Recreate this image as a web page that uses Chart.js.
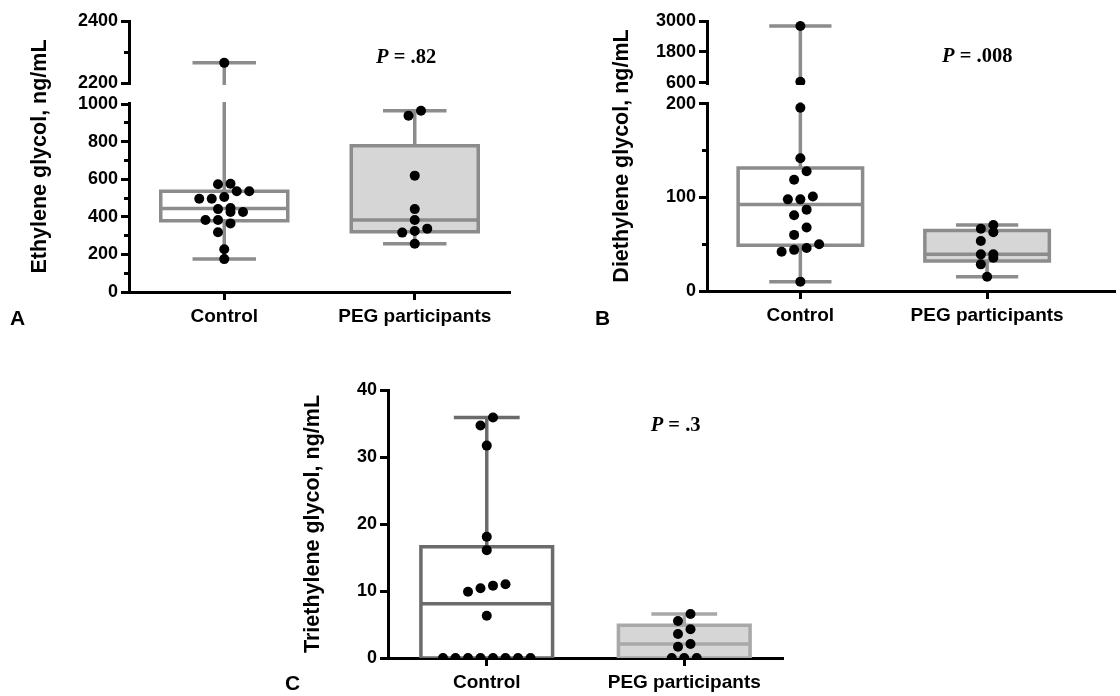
<!DOCTYPE html>
<html>
<head>
<meta charset="utf-8">
<script src="https://cdn.jsdelivr.net/npm/chart.js@4.4.1/dist/chart.umd.min.js"></script>
<style>
  body { margin: 0; background: #fff; width: 1120px; height: 696px; position: relative; overflow: hidden; }
  canvas { position: absolute; }
  .tag { position: absolute; font: bold 21px "Liberation Sans", Arial, sans-serif; color: #000; }
</style>
</head>
<body>
<canvas id="chartA" width="560" height="340" style="left:0;top:0"></canvas>
<canvas id="chartB" width="560" height="340" style="left:560px;top:0"></canvas>
<canvas id="chartC" width="560" height="356" style="left:280px;top:340px"></canvas>
<div class="tag" style="left:10px;top:306px">A</div>
<div class="tag" style="left:595px;top:306px">B</div>
<div class="tag" style="left:285px;top:671px">C</div>
<script>
const categories = ["Control", "PEG participants"];

// A - ethylene glycol, ng/mL
const ethyleneControl = [2265, 576, 573, 536, 536, 505, 496, 496, 447, 441, 426, 426, 383, 383, 365, 318, 227, 175];
const ethylenePeg = [964, 938, 619, 441, 383, 337, 324, 316, 257];
const ethyleneTicks = [0, 200, 400, 600, 800, 1000, 2200, 2400];
const ethyleneMinorTicks = [100, 300, 500, 700, 900, 2300];

// B - diethylene glycol, ng/mL
const diethyleneControl = [2807, 650, 196, 142, 128, 119, 101, 98, 98, 87, 81, 68, 60, 50, 46, 44, 42, 10];
const diethylenePeg = [70.6, 66.6, 62.8, 53.5, 39.2, 39.2, 35.6, 28.5, 15.3];
const diethyleneTicks = [0, 100, 200, 600, 1800, 3000];
const diethyleneMinorTicks = [50, 150];

// C - triethylene glycol, ng/mL
const triethyleneControl = [35.9, 34.7, 31.7, 18.1, 16.1, 11.0, 10.8, 10.4, 9.9, 6.3, 0, 0, 0, 0, 0, 0, 0, 0];
const triethylenePeg = [6.57, 5.52, 4.28, 3.58, 2.09, 1.69, 0, 0, 0];
const triethyleneTicks = [0, 10, 20, 30, 40];

const pValueTexts = ["= .82", "= .008", "= .3"];

const SANS = '"Liberation Sans", Arial, sans-serif';
const SERIF = '"Liberation Serif", "Times New Roman", serif';

// GraphPad style quartiles, (n+1) positions
function quartiles(values) {
  const s = [...values].sort((a, b) => a - b);
  const n = s.length;
  const at = p => {
    const pos = Math.min(Math.max(p * (n + 1) - 1, 0), n - 1);
    const lo = Math.floor(pos), hi = Math.ceil(pos);
    return s[lo] + (s[hi] - s[lo]) * (pos - lo);
  };
  return { min: s[0], q1: at(0.25), med: at(0.5), q3: at(0.75), max: s[n - 1] };
}

// maps a value onto a y axis with a gap between lowMax and highMin
function brokenAxis(lowMax, gapV, highMin, highMax, highV) {
  return v => (v <= lowMax ? v : lowMax + gapV + (v - highMin) / (highMax - highMin) * highV);
}

// white band across the broken part of the axis
const axisBreakPlugin = {
  id: "axisBreak",
  afterDraw(chart, args, opts) {
    if (opts.from == null) return;
    const { ctx, chartArea, scales } = chart;
    const yLow = scales.y.getPixelForValue(opts.from);
    const yHigh = scales.y.getPixelForValue(opts.to);
    ctx.save();
    ctx.fillStyle = "#fff";
    ctx.fillRect(chartArea.left - 4, yHigh + 2, chartArea.right - chartArea.left + 8, yLow - yHigh - 4);
    ctx.restore();
  }
};

const pValuePlugin = {
  id: "pValue",
  afterDraw(chart, args, opts) {
    const { ctx, scales } = chart;
    const x = scales.x.getPixelForValue(opts.x);
    const y = scales.y.getPixelForValue(opts.y);
    ctx.save();
    ctx.fillStyle = "#000";
    ctx.textBaseline = "middle";
    ctx.font = "italic bold 20.5px " + SERIF;
    ctx.fillText("P", x, y);
    const w = ctx.measureText("P ").width;
    ctx.font = "bold 20.5px " + SERIF;
    ctx.fillText(opts.text, x + w, y);
    ctx.restore();
  }
};

function groupDatasets(values, center, toV, color, fill) {
  const b = quartiles(values);
  const hw = 1 / 3, cw = 1 / 6;
  const pt = (x, y) => ({ x, y: y == null ? null : toV(y) });
  const line = { showLine: true, pointRadius: 0, borderColor: color, borderWidth: 3.5, borderJoinStyle: "miter", fill: false };
  const whiskers = [pt(center, b.q3), pt(center, b.max), pt(center, null), pt(center - cw, b.max), pt(center + cw, b.max)];
  if (b.min < b.q1) {
    whiskers.push(pt(center, null), pt(center, b.q1), pt(center, b.min), pt(center, null), pt(center - cw, b.min), pt(center + cw, b.min));
  }
  return [
    { data: values.map(v => pt(center, v)), showLine: false, pointRadius: 5, pointBackgroundColor: "#000", pointBorderWidth: 0, order: 0, swarm: { values, center } },
    Object.assign({ data: [pt(center - hw, b.med), pt(center + hw, b.med)], order: 1 }, line),
    Object.assign({ data: whiskers, order: 1 }, line),
    Object.assign({
      data: [pt(center - hw, b.q1), pt(center + hw, b.q1), pt(center + hw, b.q3), pt(center - hw, b.q3), pt(center - hw, b.q1), pt(center + hw, b.q1)],
      order: 2
    }, line, { fill: "shape", backgroundColor: fill })
  ];
}

// row based beeswarm in pixel space, like the GraphPad scatter
function swarm(chart, values, center, toV) {
  const xs = chart.scales.x, ys = chart.scales.y;
  const pts = values.map(v => ({ v, py: ys.getPixelForValue(toV(v)) })).sort((a, b) => b.py - a.py);
  const rows = [];
  pts.forEach(p => {
    const row = rows[rows.length - 1];
    if (row && Math.abs(p.py - row[0].py) < 9) row.push(p); else rows.push([p]);
  });
  const cx = xs.getPixelForValue(center), step = 12.5;
  rows.forEach(row => row.forEach((p, i) => { p.px = cx + (i - (row.length - 1) / 2) * step; }));
  return pts.map(p => ({ x: xs.getValueForPixel(p.px), y: toV(p.v) }));
}

function makeChart(id, p) {
  const datasets = [];
  p.groups.forEach((vals, i) => {
    datasets.push(...groupDatasets(vals, [0.5, 1.5][i], p.toV, p.colors[i], p.fills[i]));
  });
  const axisFont = { family: SANS, size: 18, weight: "bold" };
  const chart = new Chart(document.getElementById(id), {
    type: "line",
    data: { datasets },
    options: {
      responsive: false,
      animation: false,
      events: [],
      layout: { padding: p.padding },
      plugins: {
        legend: { display: false },
        tooltip: { enabled: false },
        axisBreak: p.axisBreak,
        pValue: p.pValue
      },
      scales: {
        x: {
          type: "linear", min: 0, max: p.xMax, z: 1,
          afterBuildTicks: s => { s.ticks = [{ value: 0.5 }, { value: 1.5 }]; },
          afterFit: s => { s.height = p.xHeight; },
          ticks: { callback: (v, i) => categories[i], font: { family: SANS, size: 19, weight: "bold" }, color: "#000", padding: 5, autoSkip: false, maxRotation: 0 },
          grid: { drawOnChartArea: false, tickLength: 8, tickWidth: 3, tickColor: "#000" },
          border: { color: "#000", width: 3 }
        },
        y: {
          type: "linear", min: 0, max: p.yMax, weight: 2,
          afterBuildTicks: s => { s.ticks = p.ticks.map(v => ({ value: p.toV(v) })); },
          afterFit: s => { s.width = p.yWidth; },
          ticks: { callback: (v, i) => String(p.ticks[i]), font: axisFont, color: "#000", padding: 3, autoSkip: false },
          grid: { drawOnChartArea: false, tickLength: 8, tickWidth: 3, tickColor: "#000" },
          border: { color: "#000", width: 3 },
          title: { display: true, text: p.title, color: "#000", font: { family: SANS, size: 21.5, weight: "bold" }, padding: { top: p.titlePad, bottom: 0 } }
        },
        yMinor: {
          type: "linear", position: "left", min: 0, max: p.yMax, weight: 0,
          afterBuildTicks: s => { s.ticks = p.minorTicks.map(v => ({ value: p.toV(v) })); },
          afterFit: s => { s.width = 0; },
          ticks: { display: false },
          grid: { drawOnChartArea: false, tickLength: 5, tickWidth: 3, tickColor: "#000" },
          border: { display: false }
        }
      }
    },
    plugins: [axisBreakPlugin, pValuePlugin]
  });
  chart.data.datasets.forEach(ds => {
    if (ds.swarm) ds.data = swarm(chart, ds.swarm.values, ds.swarm.center, p.toV);
  });
  chart.update();
  return chart;
}

const toA = brokenAxis(1000, 111.7, 2200, 2400, 329.8);
makeChart("chartA", {
  groups: [ethyleneControl, ethylenePeg],
  toV: toA, yMax: toA(2400), xMax: 2,
  ticks: ethyleneTicks, minorTicks: ethyleneMinorTicks,
  colors: ["#8c8c8c", "#8c8c8c"], fills: ["#ffffff", "#d6d6d6"],
  padding: { top: 21, right: 50, left: 0, bottom: 0 },
  yWidth: 129, xHeight: 48, titlePad: 27,
  title: "Ethylene glycol, ng/mL",
  axisBreak: { from: toA(1000), to: toA(2200) },
  pValue: { x: 1.297, y: toA(2282), text: pValueTexts[0] }
});

const toB = brokenAxis(200, 22.46, 600, 3000, 66.3);
makeChart("chartB", {
  groups: [diethyleneControl, diethylenePeg],
  toV: toB, yMax: toB(3000), xMax: 2.185,
  ticks: diethyleneTicks, minorTicks: diethyleneMinorTicks,
  colors: ["#8c8c8c", "#8c8c8c"], fills: ["#ffffff", "#d6d6d6"],
  padding: { top: 21, right: 0, left: 0, bottom: 0 },
  yWidth: 147, xHeight: 49, titlePad: 49,
  title: "Diethylene glycol, ng/mL",
  axisBreak: { from: toB(200), to: toB(600) },
  pValue: { x: 1.259, y: toB(1600), text: pValueTexts[1] }
});

const toC = v => v;
makeChart("chartC", {
  groups: [triethyleneControl, triethylenePeg],
  toV: toC, yMax: 40, xMax: 2,
  ticks: triethyleneTicks, minorTicks: [],
  colors: ["#6b6b6b", "#a8a8a8"], fills: ["#ffffff", "#d6d6d6"],
  padding: { top: 50, right: 57, left: 0, bottom: 0 },
  yWidth: 108, xHeight: 38, titlePad: 20,
  title: "Triethylene glycol, ng/mL",
  axisBreak: { from: null, to: null },
  pValue: { x: 1.33, y: 34.6, text: pValueTexts[2] }
});
</script>
</body>
</html>
